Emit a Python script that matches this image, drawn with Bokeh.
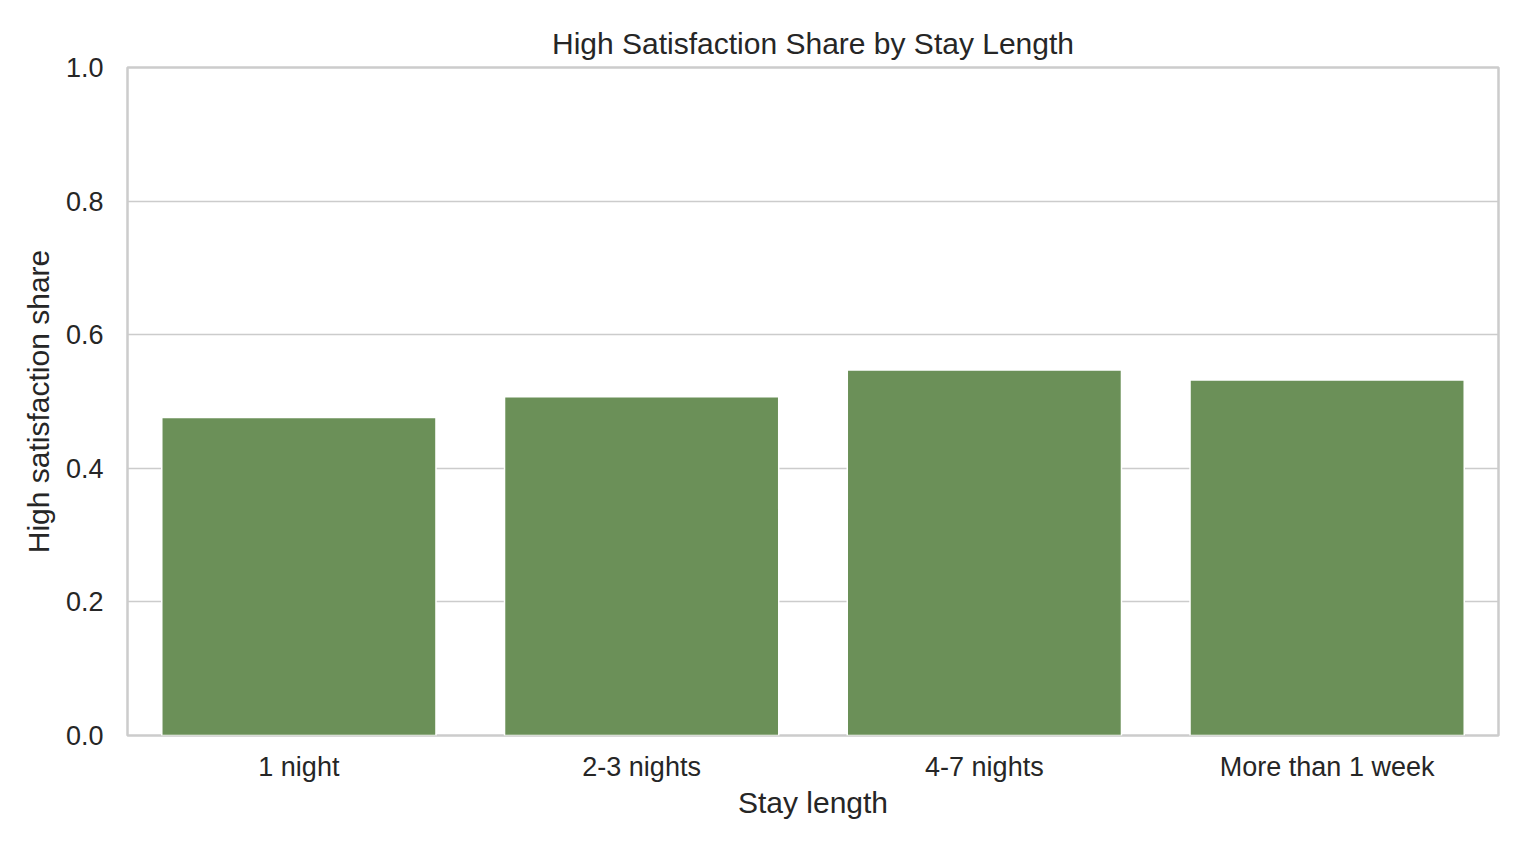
from bokeh.plotting import figure
from bokeh.models import FactorRange, Range1d, FixedTicker, NumeralTickFormatter, ColumnDataSource
from bokeh.embed import file_html
from bokeh.resources import INLINE

stay_lengths = ["1 night", "2-3 nights", "4-7 nights", "More than 1 week"]
high_sat_share = [0.476, 0.507, 0.547, 0.532]
y_ticks = [0.0, 0.2, 0.4, 0.6, 0.8, 1.0]

FONT = "Liberation Sans"
TEXT = "#262626"
GRID = "#cccccc"
BAR = "#6b9058"

src = ColumnDataSource(dict(x=stay_lengths, y=high_sat_share))

p = figure(
    x_range=FactorRange(*stay_lengths, range_padding=0),
    y_range=Range1d(0, 1.0),
    width=1522, height=842,
    output_backend="svg", toolbar_location=None,
    min_border_left=127, min_border_right=24,
    min_border_top=67, min_border_bottom=107,
    title="High Satisfaction Share by Stay Length",
)
p.vbar(x="x", top="y", width=0.8, source=src, fill_color=BAR,
       line_color="white", line_width=1.5)

p.title.align = "center"
p.title.text_font = FONT
p.title.text_font_size = "30px"
p.title.text_font_style = "normal"
p.title.text_color = TEXT
p.title.standoff = 16

p.outline_line_color = GRID
p.outline_line_width = 2.5

p.xgrid.grid_line_color = None
p.ygrid.grid_line_color = GRID
p.ygrid.grid_line_width = 1.6

p.yaxis.ticker = FixedTicker(ticks=y_ticks)
p.yaxis.formatter = NumeralTickFormatter(format="0.0")

for ax in (p.xaxis[0], p.yaxis[0]):
    ax.axis_line_color = None
    ax.major_tick_line_color = None
    ax.minor_tick_line_color = None
    ax.major_label_text_font = FONT
    ax.major_label_text_font_size = "27px"
    ax.major_label_text_color = TEXT
    ax.axis_label_text_font = FONT
    ax.axis_label_text_font_size = "30px"
    ax.axis_label_text_font_style = "normal"
    ax.axis_label_text_color = TEXT

p.xaxis.axis_label = "Stay length"
p.yaxis.axis_label = "High satisfaction share"
p.xaxis.major_label_standoff = 10
p.yaxis.major_label_standoff = 18
p.xaxis.axis_label_standoff = 1
p.yaxis.axis_label_standoff = 8

open("out.html", "w").write(file_html(p, INLINE))
